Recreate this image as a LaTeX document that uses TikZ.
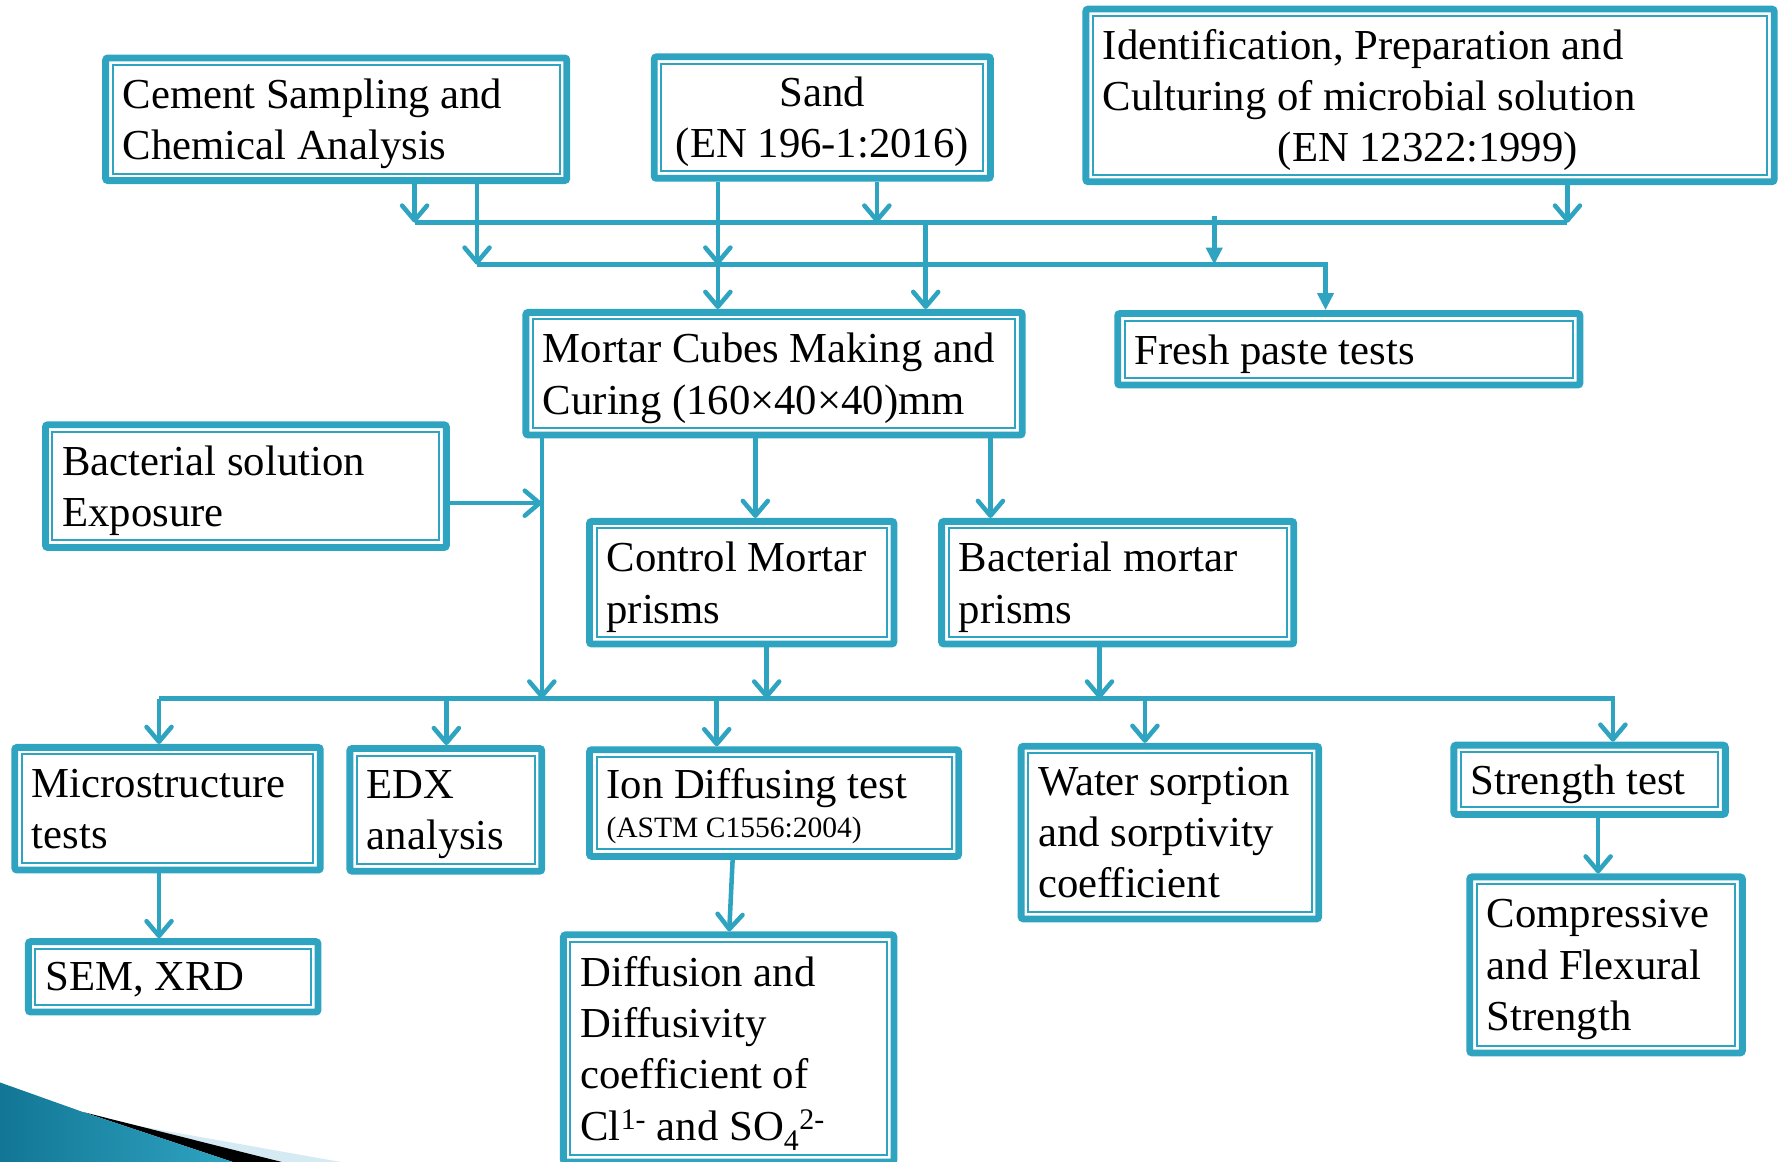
\documentclass[tikz,border=0pt]{standalone}
\usepackage{fontspec}
\setmainfont{Liberation Serif}
\usepackage{tikz}
\usetikzlibrary{arrows.meta}
\usepackage{xcolor}
\definecolor{tealline}{RGB}{47,164,193}
\definecolor{swoosh}{RGB}{18,118,150}
\definecolor{swooshlight}{RGB}{213,234,242}
\tikzstyle{box}       = [rectangle, anchor=north west, draw=tealline, line width=6pt, rounded corners=2pt, fill=white,
                         inner xsep=15pt, inner ysep=4pt, align=flush left, font=\fontsize{37.6pt}{45pt}\selectfont,
                         execute at begin node={\spaceskip=0pt\xspaceskip=0pt},
                         execute at end node={\endgraf\kern-\prevdepth}]
\tikzstyle{inner}     = [draw=tealline, line width=1.8pt]
\tikzstyle{bus}       = [draw=tealline, line width=4pt]
\tikzstyle{arrow}     = [bus, -{Straight Barb[length=13pt, width=22pt, round]}]
\tikzstyle{arrowfill} = [bus, -{Triangle[length=15pt, width=14pt]}]

\begin{document}
\begin{tikzpicture}[x=1pt, y=-1pt]
        \useasboundingbox (0,0) rectangle (1568,1023);

        % inputs
        \node (cement) [box, text width=376pt, minimum height=108pt] at (90,48)  {Cement Sampling and\\Chemical Analysis};
        \node (sand)   [box, text width=266pt, minimum height=107pt, align=flush center] at (573,47) {Sand\\(EN 196-1:2016)};
        \node (ident)  [box, text width=576pt, minimum height=152pt] at (953,5)  {Identification, Preparation and\\Culturing of microbial solution\\\hspace*{154pt}(EN 12322:1999)};

        % mixing
        \node (mortar) [box, text width=407pt, minimum height=108pt] at (460,272) {Mortar Cubes Making and\\Curing (160×40×40)mm};
        \node (fresh)  [box, text width=377pt, minimum height=63pt]  at (981,273) {Fresh paste tests};
        \node (bsol)   [box, text width=323pt, minimum height=108pt] at (37,371)  {Bacterial solution\\Exposure};
        \node (control) [box, text width=238pt, minimum height=108pt] at (516,456) {Control Mortar\\prisms};
        \node (bmortar) [box, text width=280pt, minimum height=108pt] at (826,456) {Bacterial mortar\\prisms};

        % tests
        \node (micro)  [box, text width=239pt, minimum height=108pt] at (10,655)  {Microstructure\\tests};
        \node (edx)    [box, text width=139pt, minimum height=108pt] at (305,656) {EDX\\analysis};
        \node (ion)    [box, text width=295pt, minimum height=94pt]  at (516,657) {Ion Diffusing test\\[-10pt]{\fontsize{26pt}{30pt}\selectfont (ASTM C1556:2004)}};
        \node (water)  [box, text width=232pt, minimum height=152pt] at (896,654) {Water sorption\\and sorptivity\\coefficient};
        \node (strength) [box, text width=209pt, minimum height=61pt] at (1277,653) {Strength test};

        % results
        \node (sem)    [box, text width=225pt, minimum height=62pt]  at (22,826)  {SEM, XRD};
        \node (diff)   [box, text width=261pt, minimum height=200pt] at (493,820) {Diffusion and\\Diffusivity\\coefficient of\\Cl\textsuperscript{1-} and SO\textsubscript{4}\textsuperscript{2-}};
        \node (compr)  [box, text width=210pt, minimum height=155pt] at (1291,769) {Compressive\\and Flexural\\Strength};

        % thin inner frames
        \foreach \n in {cement, sand, ident, mortar, fresh, bsol, control, bmortar, micro, edx, ion, water, strength, sem, diff, compr}
            \draw [inner] ([shift={(9.2pt,-9.2pt)}]\n.north west) rectangle ([shift={(-9.2pt,9.2pt)}]\n.south east);

        % buses
        \coordinate (bus1w) at (365,196);
        \coordinate (bus1e) at (1380,196);
        \coordinate (bus2w) at (420,233);
        \coordinate (bus2e) at (1167,233);
        \coordinate (bus3w) at (140,615);
        \coordinate (bus3e) at (1420,615);
        \coordinate (expo)  at (477,443);

        \draw [bus] (bus1w) -- (bus1e);
        \draw [arrowfill] (bus2w) -- (bus2e) -- (fresh.north -| bus2e);
        \draw [arrow] (bus3w) -- (bus3e) -- (strength.north -| bus3e);

        \draw [arrow] (cement.south -| bus1w) -- (bus1w);
        \draw [arrow] (cement.south -| bus2w) -- (bus2w);
        \draw [arrow] (sand.south -| 632,0) -- (bus2w -| 632,0);
        \draw [arrow] (bus2w -| 632,0) -- (mortar.north -| 632,0);
        \draw [arrow] (sand.south -| 772,0) -- (bus1w -| 772,0);
        \draw [arrow] (bus1w -| 815,0) -- (mortar.north -| 815,0);
        \draw [arrow] (ident.south -| bus1e) -- (bus1e);
        \draw [arrowfill] (1069,190) -- (bus2w -| 1069,0);

        \draw [arrow] (bsol.east |- expo) -- (expo);
        \draw [arrow] (mortar.south -| expo) -- (bus3w -| expo);
        \draw [arrow] (mortar.south -| 665,0) -- (control.north -| 665,0);
        \draw [arrow] (mortar.south -| 872,0) -- (bmortar.north -| 872,0);
        \draw [arrow] (control.south -| 675,0) -- (bus3w -| 675,0);
        \draw [arrow] (bmortar.south -| 968,0) -- (bus3w -| 968,0);

        \draw [arrow] (bus3w) -- (micro.north -| bus3w);
        \draw [arrow] (bus3w -| 393,0) -- (edx.north -| 393,0);
        \draw [arrow] (bus3w -| 631,0) -- (ion.north -| 631,0);
        \draw [arrow] (bus3w -| 1008,0) -- (water.north -| 1008,0);

        \draw [arrow] (micro.south -| bus3w) -- (sem.north -| bus3w);
        \draw [arrow] (ion.south -| 645,0) -- (diff.north -| 642,0);
        \draw [arrow] (strength.south -| 1407,0) -- (compr.north -| 1407,0);

        % corner swoosh
        \fill [swooshlight] (120,991) -- (300,1023) -- (240,1023) -- cycle;
        \fill [black] (73,979) -- (248,1023) -- (205,1023) -- cycle;
        \shade [left color=swoosh, right color=tealline] (0,953) -- (73,979) -- (205,1023) -- (0,1023) -- cycle;
\end{tikzpicture}
\end{document}
